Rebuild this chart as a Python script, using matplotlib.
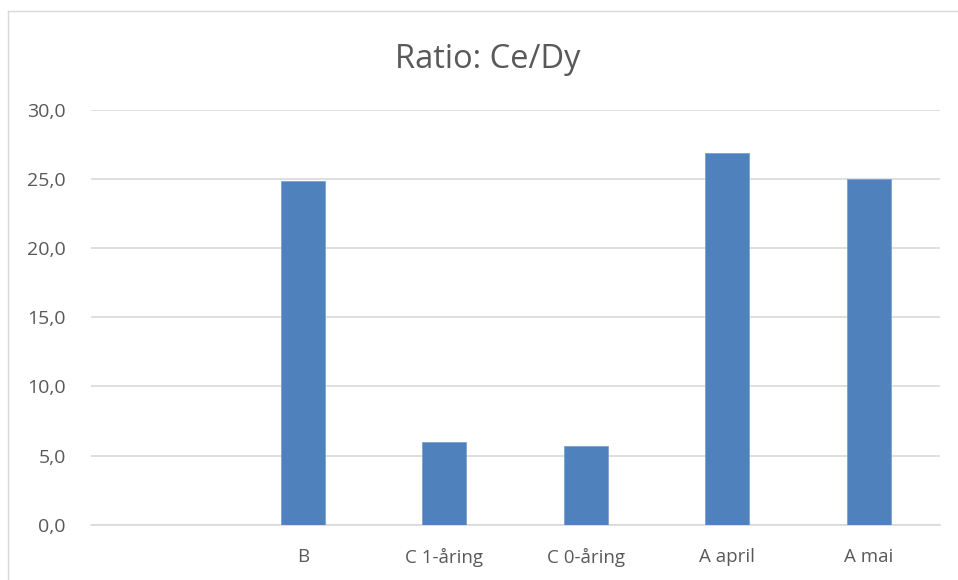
import matplotlib
matplotlib.use('Agg')
import matplotlib.pyplot as plt
from matplotlib.lines import Line2D

# categories (first slot is empty in the original sheet)
categories = ['', 'B', 'C 1-åring', 'C 0-åring', 'A april', 'A mai']
ratio = [0.0, 24.9, 6.0, 5.7, 26.9, 25.0]
yticks = [0, 5, 10, 15, 20, 25, 30]

plt.rcParams['font.family'] = ['Open Sans', 'DejaVu Sans']
txt = '#595959'
grid = '#d9d9d9'

fig = plt.figure(figsize=(9.58, 5.8), dpi=100)
ax = fig.add_axes([0.0947, 0.0953, 0.886, 0.715])

x = list(range(len(categories)))
ax.bar(x, ratio, width=0.31, color='#4f81bd', edgecolor='#7ea1d0', linewidth=0.6, zorder=3)

ax.set_xlim(-0.5, len(categories) - 0.5)
ax.set_ylim(0, 30)
ax.set_yticks(yticks)
ax.set_yticklabels(['{:.1f}'.format(v).replace('.', ',') for v in yticks], color=txt, fontsize=14)
ax.set_xticks(x)
ax.set_xticklabels(categories, color=txt, fontsize=13.5)
ax.tick_params(axis='x', length=0, pad=16.5)
ax.tick_params(axis='y', length=0, pad=18)

ax.grid(axis='y', color=grid, linewidth=1.2, zorder=0)
for s in ['top', 'right', 'left']:
    ax.spines[s].set_visible(False)
ax.spines['bottom'].set_color(grid)
ax.spines['bottom'].set_linewidth(1.2)

fig.text(0.509, 0.898, 'Ratio: Ce/Dy', ha='center', va='center', fontsize=23.5, color=txt)

# outer chart border (left and top edges visible)
fig.add_artist(Line2D([8/958, 8/958], [0, 1 - 11/580], transform=fig.transFigure, color=grid, linewidth=1))
fig.add_artist(Line2D([8/958, 1], [1 - 11/580, 1 - 11/580], transform=fig.transFigure, color=grid, linewidth=1))

fig.savefig('out.png', dpi=100)
